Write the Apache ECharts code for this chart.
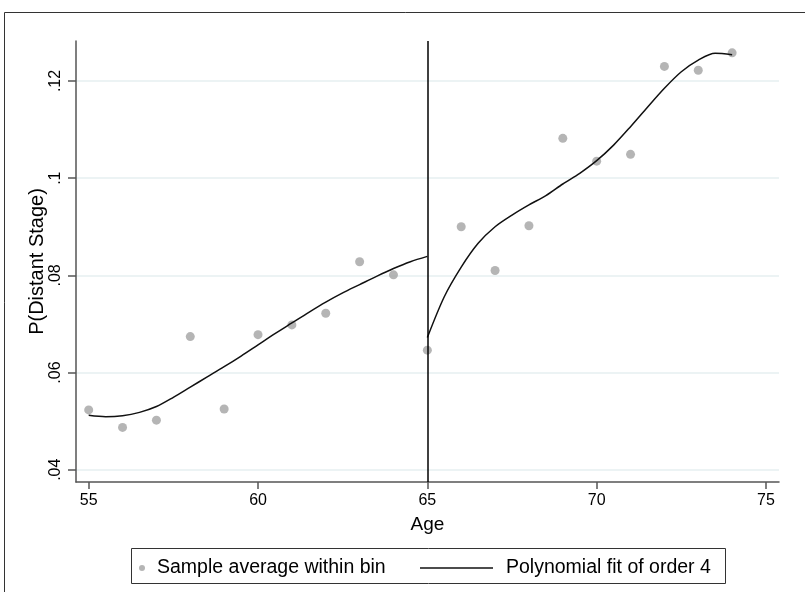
<!DOCTYPE html>
<html><head><meta charset="utf-8">
<script src="https://cdn.jsdelivr.net/npm/echarts@6/dist/echarts.min.js"></script>
<style>html,body{margin:0;padding:0;background:#fff}#c{width:805px;height:592px}</style>
</head><body><div id="c"></div>
<script>
// Bin averages
const ages = [55,56,57,58,59,60,61,62,63,64,65,66,67,68,69,70,71,72,73,74];
const binMeans = [0.0523,0.0487,0.0502,0.0674,0.0525,0.0678,0.0698,0.0722,0.0828,0.0801,0.0646,0.0900,0.0810,0.0902,0.1082,0.1035,0.1049,0.1230,0.1222,0.1258];
// Polynomial fit, left of cutoff
const fitLeftAges = [55,55.5,56,56.5,57,57.5,58,58.5,59,59.5,60,60.5,61,61.5,62,62.5,63,63.5,64,64.5,65];
const fitLeftValues = [0.0512,0.0509,0.0511,0.0518,0.0530,0.0549,0.0570,0.0591,0.0612,0.0634,0.0657,0.0680,0.0702,0.0724,0.0745,0.0764,0.0781,0.0798,0.0814,0.0828,0.0839];
// right of cutoff
const fitRightAges = [65,65.5,66,66.5,67,67.5,68,68.5,69,69.5,70,70.5,71,71.5,72,72.5,73,73.5,74];
const fitRightValues = [0.0672,0.0756,0.0817,0.0866,0.0900,0.0924,0.0945,0.0964,0.0988,0.1010,0.1036,0.1068,0.1106,0.1146,0.1185,0.1219,0.1243,0.1257,0.1254];
const xTicks = [55,60,65,70,75];
const yTicks = [0.04,0.06,0.08,0.10,0.12];
const cutoff = 65;
const seriesNames = ['Sample average within bin','Polynomial fit of order 4'];

const FONT = 'Liberation Sans, Arial, sans-serif';
const zip = (a,b) => a.map((v,i)=>[v,b[i]]);

const chart = echarts.init(document.getElementById('c'), null, {renderer:'canvas'});
chart.setOption({
  animation:false,
  backgroundColor:'#fff',
  grid:{left:76,right:26,top:41,bottom:110,containLabel:false},
  xAxis:{
    type:'value', min:54.625, max:75.384,
    name:'Age', nameLocation:'middle', nameGap:33, nameMoveOverlap:false,
    nameTextStyle:{fontSize:19,color:'#000',fontFamily:FONT},
    axisLine:{show:true,onZero:false,lineStyle:{color:'#555',width:1.5}},
    axisTick:{show:true,length:7,customValues:xTicks,lineStyle:{color:'#555',width:1.5}},
    axisLabel:{customValues:xTicks,margin:11,fontSize:16,color:'#000',fontFamily:FONT},
    splitLine:{show:false}
  },
  yAxis:{
    type:'value', min:0.03747, max:0.12823,
    name:'P(Distant Stage)', nameLocation:'middle', nameGap:28.5, nameMoveOverlap:false,
    nameTextStyle:{fontSize:20,color:'#000',fontFamily:FONT},
    axisLine:{show:true,onZero:false,lineStyle:{color:'#555',width:1.5}},
    axisTick:{show:true,length:8,customValues:yTicks,lineStyle:{color:'#555',width:1.5}},
    axisLabel:{customValues:yTicks,rotate:90,margin:12,fontSize:16,color:'#000',fontFamily:FONT,
      formatter:v=>v.toFixed(2).replace(/^0/,'').replace(/0$/,'')},
    splitLine:{show:true,lineStyle:{color:'#e6eff1',width:1.5}}
  },
  legend:[
    {data:[seriesNames[0]],left:134,top:553,itemWidth:20,itemHeight:6,icon:'circle',
     textStyle:{fontSize:19.5,color:'#000',fontFamily:FONT}},
    {data:[seriesNames[1]],left:415,top:553,itemWidth:73,itemHeight:1.5,icon:'rect',
     textStyle:{fontSize:19.5,color:'#000',fontFamily:FONT,padding:[0,0,0,8]}}
  ],
  graphic:[
    {type:'rect',shape:{x:4.5,y:12.5,width:900,height:700},style:{fill:'none',stroke:'#333',lineWidth:1},silent:true},
    {type:'rect',shape:{x:131.5,y:548.5,width:594,height:35},style:{fill:'none',stroke:'#333',lineWidth:1},silent:true}
  ],
  series:[
    {name:seriesNames[0],type:'scatter',data:zip(ages,binMeans),symbol:'circle',symbolSize:9,
     itemStyle:{color:'#a3a3a3'},z:2,
     markLine:{silent:true,symbol:'none',label:{show:false},
       lineStyle:{color:'#000',width:1.5,type:'solid'},data:[{xAxis:cutoff}]}},
    {name:seriesNames[1],type:'line',data:zip(fitLeftAges,fitLeftValues),smooth:0.3,symbol:'none',showSymbol:false,
     lineStyle:{color:'#111',width:1.5},itemStyle:{color:'#111'},z:3},
    {name:seriesNames[1],type:'line',data:zip(fitRightAges,fitRightValues),smooth:0.3,symbol:'none',showSymbol:false,
     lineStyle:{color:'#111',width:1.5},itemStyle:{color:'#111'},z:3}
  ]
});
</script>
</body></html>
